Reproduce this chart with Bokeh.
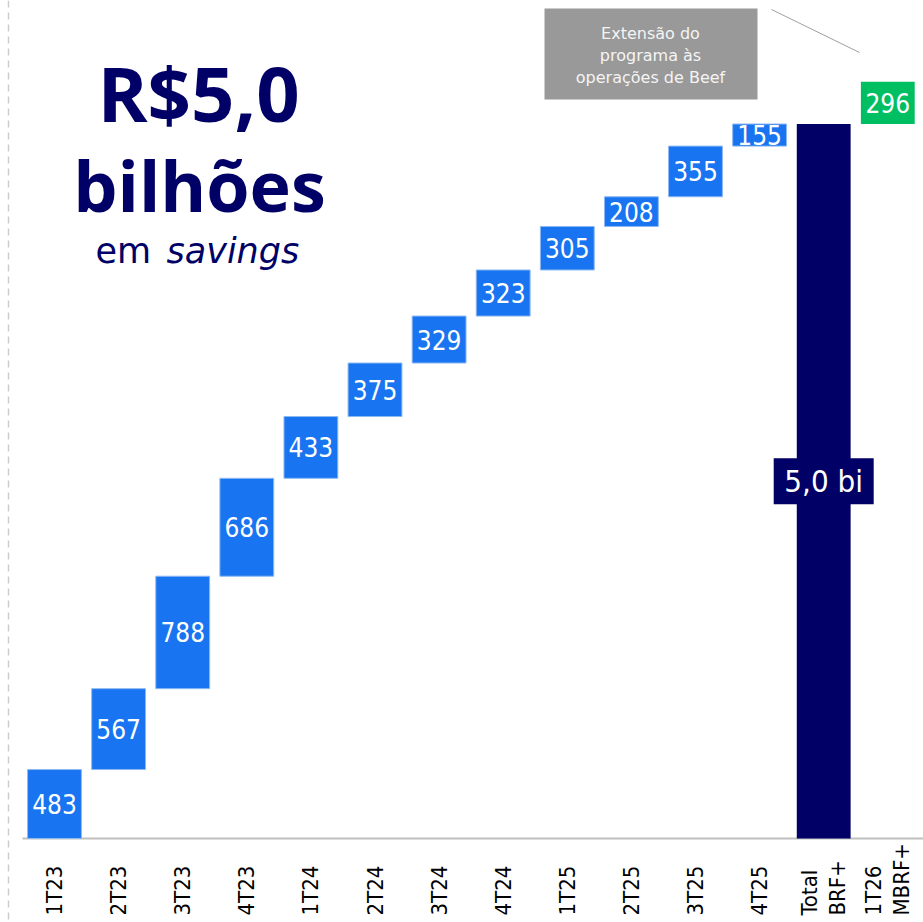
import numpy as np
from bokeh.plotting import figure
from bokeh.models import Range1d, Span, ColumnDataSource
from bokeh.core.properties import value
from bokeh.embed import file_html
from bokeh.resources import INLINE

# ---------------- data ----------------
categories = ["1T23", "2T23", "3T23", "4T23", "1T24", "2T24", "3T24", "4T24",
              "1T25", "2T25", "3T25", "4T25", "Total\nBRF+", "1T26\nMBRF+"]
quarter_values = [483, 567, 788, 686, 433, 375, 329, 323, 305, 208, 355, 155]
total_text = "5,0 bi"
extension_value = 296
note_lines = ["Extensão do", "programa às", "operações de Beef"]
title_main = "R$5,0"
title_sub = "bilhões"
title_em = "em"
title_savings = "savings"

# ---------------- layout ----------------
W, H = 923, 922
X0_PX = 54.0        # px of first category centre
STEP_PX = 64.1      # px per category
BASE_PX = 838.0     # px of value 0
PX_PER_UNIT = 0.1427

def dx(px):
    return (px - X0_PX) / STEP_PX

def dy(py):
    return (BASE_PX - py) / PX_PER_UNIT

BLUE = "#1874F0"
NAVY = "#000066"
GREEN = "#00BF63"
NUM_FONT = value("DejaVu Sans Condensed")

x_start = -X0_PX / STEP_PX
x_end = (W - X0_PX) / STEP_PX
p = figure(width=W, height=H, output_backend="svg", toolbar_location=None,
           x_range=Range1d(x_start, x_end),
           y_range=Range1d(-(H - BASE_PX) / PX_PER_UNIT, BASE_PX / PX_PER_UNIT),
           x_axis_type=None, y_axis_type=None, min_border=0)
p.outline_line_color = None
p.xgrid.visible = False
p.ygrid.visible = False
p.background_fill_color = "white"

vals = np.array(quarter_values, dtype=float)
cum = np.cumsum(vals)
bottoms = np.concatenate([[0.0], cum[:-1]])
total = cum[-1]
n = len(quarter_values)

src = ColumnDataSource(dict(x=list(range(n)), bottom=bottoms, top=cum,
                            mid=(bottoms + cum) / 2,
                            label=[str(v) for v in quarter_values]))

# left dashed guide
p.add_layout(Span(location=dx(8), dimension="height",
                  line_color="#CCCCCC", line_dash="7 5", line_width=1.5))

# baseline
p.segment(x0=[-0.5], x1=[x_end], y0=[0], y1=[0], line_color="#BFBFBF", line_width=2)

# quarterly bars
p.vbar(x="x", bottom="bottom", top="top", width=0.84, source=src,
       fill_color=BLUE, line_color="#8DB9F2", line_width=1)
p.text(x="x", y="mid", text="label", source=src, text_color="white",
       text_font=NUM_FONT, text_font_size="26px",
       text_align="center", text_baseline="middle")

# total bar
p.vbar(x=[n], bottom=[0], top=[total], width=0.84, fill_color=NAVY, line_color=None)
p.rect(x=[n], y=[total / 2], width=100, height=46, width_units="screen",
       height_units="screen", fill_color=NAVY, line_color=None)
p.text(x=[n], y=[total / 2], text=[total_text], text_color="white",
       text_font=NUM_FONT, text_font_size="31px",
       text_align="center", text_baseline="middle")

# extension bar
p.vbar(x=[n + 1], bottom=[total], top=[total + extension_value], width=0.84,
       fill_color=GREEN, line_color=None)
p.text(x=[n + 1], y=[total + extension_value / 2], text=[str(extension_value)],
       text_color="white", text_font=NUM_FONT, text_font_size="26px",
       text_align="center", text_baseline="middle")

# category labels (rotated)
lx, lt, lo = [], [], []
for i, c in enumerate(categories):
    lines = c.split("\n")
    k = len(lines)
    for j, ln in enumerate(lines):
        lx.append(i)
        lt.append(ln)
        lo.append((j - (k - 1) / 2) * 28)
p.text(x=lx, y=[0] * len(lx), text=lt, x_offset=lo, y_offset=77,
       angle=np.pi / 2, text_align="left", text_baseline="middle",
       text_font=NUM_FONT, text_font_size="22px", text_color="#000000")

# annotation box
p.quad(left=[dx(544)], right=[dx(757)], top=[dy(8)], bottom=[dy(99)],
       fill_color="#999999", line_color=None)
p.text(x=[dx(650)] * 3, y=[dy(33), dy(55), dy(77)], text=note_lines,
       text_align="center", text_baseline="middle", text_color="#F4F4F4",
       text_font=value("DejaVu Sans"), text_font_size="16px")
p.segment(x0=[dx(771)], y0=[dy(9)], x1=[dx(859)], y1=[dy(52)],
          line_color="#A0A0A0", line_width=1)

# title
p.text(x=[dx(198)], y=[dy(92)], text=[title_main], text_align="center",
       text_baseline="alphabetic", text_color=NAVY, text_font=value("Open Sans"),
       text_font_style="bold", text_font_size="76px")
p.text(x=[dx(199)], y=[dy(184)], text=[title_sub], text_align="center",
       text_baseline="alphabetic", text_color=NAVY, text_font=value("Open Sans"),
       text_font_style="bold", text_font_size="70px")
p.text(x=[dx(95)], y=[dy(250)], text=[title_em], text_align="left",
       text_baseline="alphabetic", text_color=NAVY, text_font=value("DejaVu Sans"),
       text_font_size="35px")
p.text(x=[dx(166)], y=[dy(250)], text=[title_savings], text_align="left",
       text_baseline="alphabetic", text_color=NAVY, text_font=value("DejaVu Sans"),
       text_font_style="italic", text_font_size="35px")

open("out.html", "w").write(file_html(p, INLINE))
